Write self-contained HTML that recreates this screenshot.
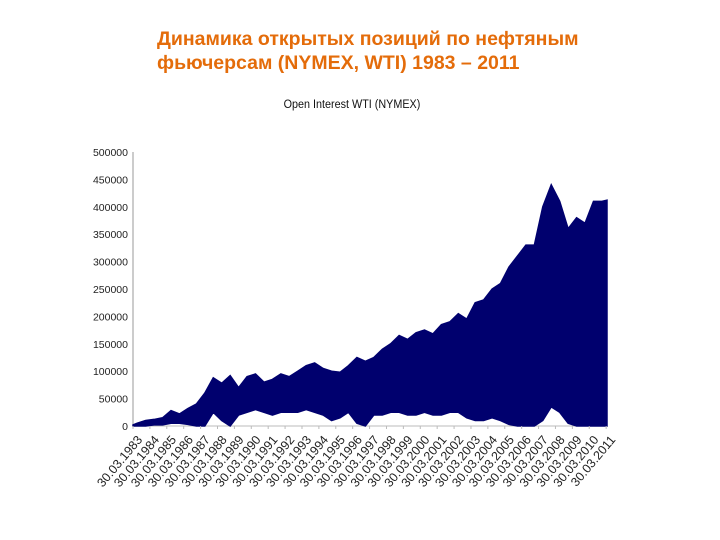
<!DOCTYPE html>
<html><head><meta charset="utf-8"><style>
body{margin:0;background:#fff;width:720px;height:540px;overflow:hidden}
.h{position:absolute;left:157px;font:bold 19.5px "Liberation Sans","Noto Sans CJK SC",sans-serif;color:#e46c0a;white-space:nowrap}
</style></head><body>
<div class="h" style="top:28px">Динамика открытых позиций по нефтяным</div>
<div class="h" style="top:52px">фьючерсам (NYMEX, WTI) 1983 – 2011</div>
<svg id="c" width="720" height="540" style="position:absolute;left:0;top:0">
<text x="352" y="108" text-anchor="middle" font-family="Liberation Sans Narrow, Liberation Sans, sans-serif" font-size="12" fill="#111" transform="scale(0.9 1)" transform-origin="352 108">Open Interest WTI (NYMEX)</text>
</svg>
<script>
const years=[1983,1983.5,1984,1984.5,1985,1985.5,1986,1986.5,1987,1987.5,1988,1988.5,1989,1989.5,1990,1990.5,1991,1991.5,1992,1992.5,1993,1993.5,1994,1994.5,1995,1995.5,1996,1996.5,1997,1997.5,1998,1998.5,1999,1999.5,2000,2000.5,2001,2001.5,2002,2002.5,2003,2003.5,2004,2004.5,2005,2005.5,2006,2006.5,2007,2007.5,2008,2008.5,2009,2009.5,2010,2010.5,2011,2011.3];
const highValues=[2,5,10,12,15,28,22,32,40,60,88,78,92,70,90,95,80,85,95,90,100,110,115,105,100,98,110,125,118,125,140,150,165,158,170,175,168,185,190,205,195,225,230,250,260,290,310,330,330,400,440,410,360,380,370,410,410,412];
const lowValues=[0,0,0,2,2,5,5,3,0,0,25,10,0,20,25,30,25,20,25,25,25,30,25,20,10,15,25,5,0,20,20,25,25,20,20,25,20,20,25,25,15,10,10,15,10,3,0,0,0,10,35,25,5,0,0,0,0,0];
const yTicks=[0,50000,100000,150000,200000,250000,300000,350000,400000,450000,500000];
const xLabels=["30.03.1983","30.03.1984","30.03.1985","30.03.1986","30.03.1987","30.03.1988","30.03.1989","30.03.1990","30.03.1991","30.03.1992","30.03.1993","30.03.1994","30.03.1995","30.03.1996","30.03.1997","30.03.1998","30.03.1999","30.03.2000","30.03.2001","30.03.2002","30.03.2003","30.03.2004","30.03.2005","30.03.2006","30.03.2007","30.03.2008","30.03.2009","30.03.2010","30.03.2011"];
const svg=document.getElementById('c');const NS='http://www.w3.org/2000/svg';
const x0=133,x1=607,y0=426,y1=152;
const X=t=>x0+(t-1983.25)/(2011.3-1983.25)*(x1-x0);
const Y=v=>y0-v/500000*(y0-y1);
function mk(tag,attrs){const e=document.createElementNS(NS,tag);for(const k in attrs)e.setAttribute(k,attrs[k]);svg.appendChild(e);return e;}
const ax=mk('line',{x1:x0,y1:y1,x2:x0,y2:y0,stroke:'#999'});


const bx=mk('line',{x1:x0,y1:y0,x2:x1,y2:y0,stroke:'#bbb'});


yTicks.forEach(v=>{const t=mk('text',{x:128,y:Y(v)+4,'text-anchor':'end','font-family':'Liberation Sans Narrow, Liberation Sans, sans-serif','font-size':'10.5',fill:'#222'});t.textContent=v;

});
const xs=years.map(t=>X(Math.max(1983.25,t)));
let pts=xs.map((x,i)=>x+','+Y(highValues[i]*1000)).join(' ')+' '+xs.map((x,i)=>x+','+Y(lowValues[i]*1000)).reverse().join(' ');
const band=mk('polygon',{points:pts,fill:'#00006e',stroke:'#00006e','stroke-width':'1.5'});


xLabels.forEach((l,i)=>{const yr=1983.25+i;const x=X(yr);
const tk=mk('line',{x1:x,y1:y0,x2:x,y2:y0+3,stroke:'#bbb'});


const t=mk('text',{x:x+10,y:440,'text-anchor':'end','font-family':'Liberation Sans Narrow, Liberation Sans, sans-serif','font-size':'12.5',fill:'#222',transform:`rotate(-50 ${x+10} 440)`});t.textContent=l;

});
</script>
</body></html>
